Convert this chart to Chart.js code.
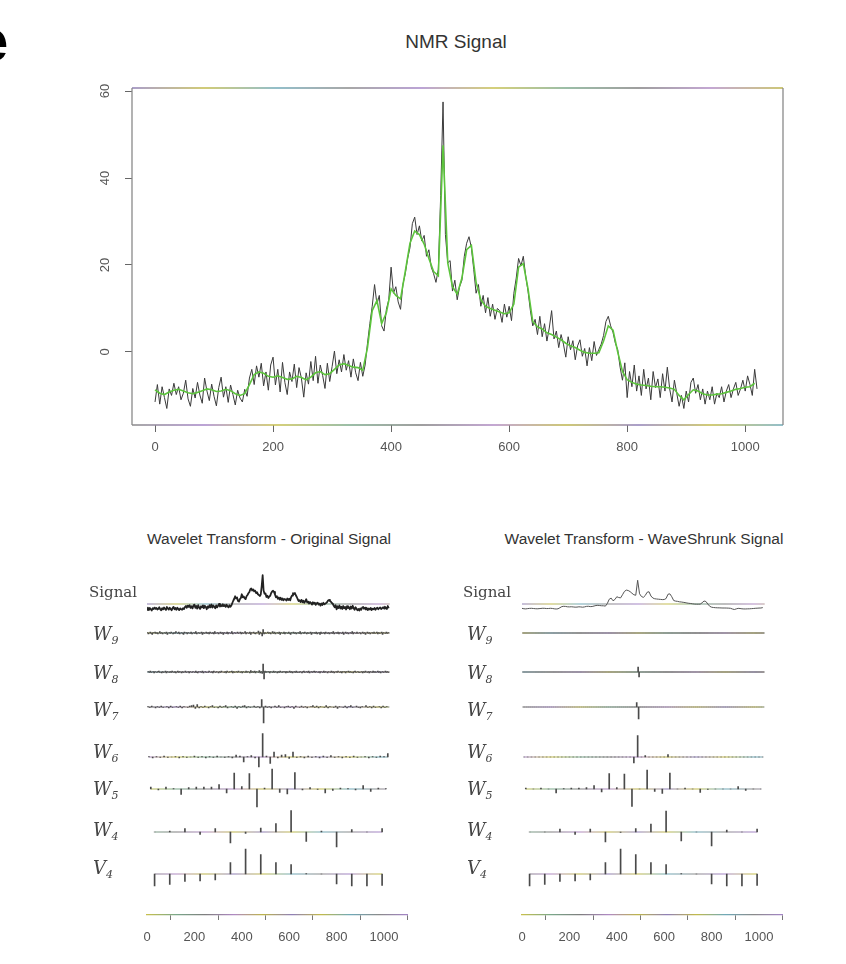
<!DOCTYPE html>
<html>
<head>
<meta charset="utf-8">
<script src="https://cdn.jsdelivr.net/npm/chart.js@4.4.0/dist/chart.umd.min.js"></script>
<style>
  body { margin: 0; background: #fff; }
  #page { position: relative; width: 846px; height: 964px; overflow: hidden; background: #fff; }
  .wrap { position: absolute; }
  .txt { position: absolute; white-space: nowrap; color: #333; font-family: "Liberation Sans", Arial, sans-serif; line-height: 1; }
  .row { font-family: "DejaVu Serif", serif; color: #444; }
  .row i { font-size: 18px; }
  .row sub { font-size: 11px; font-style: italic; vertical-align: -4px; }
</style>
</head>
<body>
<div id="page">
  <div class="txt" style="left:-25px;top:6px;font:bold 60px 'Liberation Sans',Arial,sans-serif;color:#000;">e</div>
  <div class="txt" style="left:356px;top:32px;width:200px;text-align:center;font-size:19px;">NMR Signal</div>
  <div class="txt" style="left:119px;top:531px;width:300px;text-align:center;font-size:15.5px;">Wavelet Transform - Original Signal</div>
  <div class="txt" style="left:494px;top:531px;width:300px;text-align:center;font-size:15.5px;">Wavelet Transform - WaveShrunk Signal</div>
  <div class="wrap" style="left:0;top:0;width:846px;height:470px;"><canvas id="nmr"></canvas></div>
  <div class="wrap" style="left:0;top:540px;width:420px;height:424px;"><canvas id="wtOrig"></canvas></div>
  <div class="wrap" style="left:375px;top:540px;width:420px;height:424px;"><canvas id="wtShrunk"></canvas></div>
</div>
<script>
// NMR spectrum, one value every 4 samples
const nmrSignal = [
  -11.5, -7.5, -12.0, -8.0, -10.5, -13.0, -8.5, -10.0, -7.2, -9.8,
  -8.0, -11.0, -9.5, -6.5, -10.8, -12.5, -8.4, -10.6, -7.0, -9.9,
  -11.8, -6.0, -9.0, -11.2, -7.4, -10.2, -12.4, -8.2, -5.8, -10.4,
  -8.0, -11.6, -7.6, -9.8, -12.2, -8.8, -10.6, -11.5, -8.6, -10.2,
  -6.0, -4.0, -7.5, -3.2, -5.8, -2.6, -7.8, -4.6, -8.8, -3.0,
  -1.2, -7.6, -4.0, -9.2, -2.4, -7.0, -9.8, -4.6, -6.8, -2.8,
  -8.2, -3.6, -6.0, -10.4, -4.8, -7.4, -2.2, -6.6, -1.0, -7.2,
  -3.0, -5.4, -8.4, -2.6, -6.8, -3.4, 0.2, -5.0, -1.8, -4.6,
  -0.6, -4.2, -2.0, -5.8, -1.6, -4.8, -6.6, -2.4, -5.6, -3.0,
  2.0, 6.5, 10.5, 15.5, 11.0, 13.0, 6.0, 4.8, 9.8, 12.0,
  19.5, 13.5, 15.0, 11.5, 9.8, 15.5, 18.0, 21.5, 24.0, 29.5,
  31.0, 27.0, 29.0, 25.5, 26.8, 22.0, 23.5, 19.5, 18.0, 16.0,
  19.0, 36.0, 57.5, 27.0, 20.5, 21.0, 14.0, 16.5, 12.0, 15.0,
  16.5, 22.0, 25.0, 26.5, 24.0, 19.0, 13.5, 15.5, 10.5, 13.0,
  9.0, 12.5, 8.2, 11.0, 7.5, 10.0, 9.5, 6.8, 11.0, 8.0,
  10.5, 7.2, 13.5, 17.0, 21.5, 19.8, 22.0, 17.5, 14.0, 9.5,
  6.0, 7.5, 4.0, 8.2, 3.5, 6.5, 2.5, 5.5, 9.5, 3.0,
  4.8, 1.0, 4.0, 1.8, -1.2, 3.5, 0.5, 2.6, -1.8, 1.4,
  2.8, -1.0, 0.8, -3.2, 1.0, -2.0, 2.4, -0.8, 0.6, 1.8,
  3.8, 7.0, 8.2, 6.0, 4.5, 2.0, 0.5, -3.5, -6.5, -2.5,
  -10.5, -4.5, -8.0, -3.0, -9.0, -5.5, -10.0, -4.0, -8.5, -6.0,
  -11.0, -4.5, -8.2, -6.2, -10.5, -5.0, -9.0, -3.5, -8.5, -11.5,
  -6.5, -9.5, -12.5, -10.0, -13.0, -9.0, -11.5, -7.0, -6.0, -9.5,
  -7.5, -11.0, -8.5, -12.0, -9.0, -11.0, -8.0, -12.0, -9.5, -10.5,
  -8.0, -11.5, -9.0, -7.5, -10.5, -8.5, -7.0, -10.0, -8.5, -6.5,
  -9.0, -5.5, -7.5, -10.0, -4.0, -8.5
];

// WaveShrink estimate, one value every 8 samples
const nmrShrunk = [
  -8.7, -9.5, -9.8, -9.2, -8.8, -8.6, -9.0, -9.4, -9.6, -9.3,
  -8.9, -8.5, -8.7, -9.1, -9.0, -8.6, -8.9, -9.6, -10.0, -9.6,
  -7.5, -5.2, -4.6, -4.9, -5.6, -5.8, -5.5, -5.9, -6.3, -6.2,
  -5.6, -5.9, -6.4, -5.8, -4.8, -4.5, -5.2, -5.0, -4.0, -3.0,
  -2.7, -3.1, -3.5, -3.6, -4.2,
  1.0, 9.5, 11.8, 6.5, 9.0, 14.5, 13.0, 12.2, 18.5, 25.0,
  27.8, 27.0, 24.8, 21.5, 18.5, 17.5, 47.5, 20.5, 15.0, 13.3,
  17.0, 23.5, 24.5, 16.0, 12.0, 10.5, 10.0, 9.6, 9.2, 8.8,
  9.0, 11.0, 19.5, 20.3, 14.5, 7.0, 5.8, 5.3, 4.4, 4.0,
  3.4, 2.8, 2.0, 1.4, 1.0, 0.4, -0.1, -0.3, -0.3, -0.2,
  2.5, 6.0, 5.0, 0.0, -4.5, -6.4, -7.0, -7.4, -7.6, -7.7,
  -7.9, -8.0, -8.0, -8.1, -8.3, -8.6, -10.0, -11.0, -9.8, -8.7,
  -9.0, -9.6, -9.9, -9.9, -9.7, -9.6, -9.3, -9.0, -8.6, -8.4,
  -8.1, -8.0, -7.2
];

const xTicks = [0, 200, 400, 600, 800, 1000];
const yTicks = [0, 20, 40, 60];

// wavelet crystals of the raw spectrum
const w9 = [
  1,-2,0,2,-1,-3,1,0,2,-1,1,-2,0,3,-1,1,
  -2,0,1,-1,2,-3,0,1,-1,2,0,-2,1,-1,3,0,
  -1,2,-2,0,1,-1,-3,2,0,1,-2,1,0,-1,2,-2,
  0,1,-1,3,-2,0,1,-1,0,2,-3,1,-1,0,2,-1,
  1,-2,2,0,-1,1,-2,3,-1,0,1,-2,0,2,-1,1,
  -3,1,0,-1,2,-2,1,0,-1,3,-2,0,1,-1,0,2,
  -1,0,2,-2,1,-1,0,3,-2,1,0,-1,2,-3,1,0,
  2,-1,-2,1,0,4,-3,2,-1,-6,7,-2,1,-1,0,2,
  -1,1,-2,0,3,-1,2,-2,0,1,-1,2,-3,1,0,-1,
  2,-2,1,0,-1,2,-1,-3,1,0,2,-1,1,-2,0,1,
  -1,3,-2,0,1,-1,2,0,-2,1,-1,0,2,-3,1,0,
  1,-1,2,-2,0,1,-3,2,-1,0,1,-2,2,0,-1,1,
  -2,0,1,-1,3,-2,0,1,-1,2,-2,1,0,-1,2,-3,
  0,2,-1,1,-2,0,1,-1,3,-2,1,0,-1,2,-1,0,
  1,-2,0,2,-1,1,-3,0,2,-1,1,-2,0,1,-1,2,
  -1,0,2,-2,1,-1,0,2,-3,1,0,-1,2,-1,1,0
];
const w8 = [
  0,1,-1,2,-1,0,1,-2,1,0,-1,1,2,-1,0,-2,
  1,-1,0,2,-2,1,0,-1,1,-1,2,0,-1,1,-2,0,
  2,-1,1,0,-2,1,-1,0,2,-1,0,1,-2,1,0,-1,
  1,0,-1,2,-1,-2,1,0,1,-1,2,-2,0,1,-1,0,
  -1,2,0,-1,1,-2,2,0,-1,1,0,-2,1,-1,2,0,
  0,-1,1,-2,2,0,-1,1,0,2,-2,1,-1,0,1,-1,
  2,0,-1,1,-2,1,0,-1,2,-1,1,0,-2,3,-1,1,
  -1,2,-2,1,0,-1,3,-2,1,-3,16,-14,2,-1,1,0,
  1,-2,1,0,-1,2,-1,1,0,-2,1,-1,2,0,-1,1,
  0,1,-2,1,-1,0,2,-1,1,-2,0,1,-1,2,-1,0,
  -1,1,0,-2,1,2,-1,0,1,-1,2,-2,0,1,-1,1,
  2,-1,1,0,-1,1,-2,1,0,-1,2,-1,1,0,-2,1,
  0,-1,2,-1,1,-2,0,1,-1,2,0,-1,1,-2,1,0,
  1,-2,1,0,2,-1,1,-1,0,-2,1,2,-1,0,1,-1,
  -1,0,1,-2,1,-1,2,0,-1,1,-2,1,0,-1,2,-1,
  1,-1,0,2,-1,1,-2,0,1,-1,0,2,-1,1,-1,0
];
const w7 = [
  1,-1,2,0,-2,1,-1,2,-1,0,1,-2,2,-1,0,1,
  -1,2,-2,1,0,-1,2,3,4,-3,5,-2,1,-1,2,0,
  -2,1,3,-1,0,-2,2,-1,1,3,-2,0,1,-1,2,-3,
  1,-1,2,3,-2,1,-1,0,2,-1,1,-2,15,-32,2,-1,
  1,-2,0,2,-1,3,-1,0,-2,1,2,-1,1,-3,2,0,
  -1,2,-1,1,-2,0,1,3,-1,2,-2,1,0,-1,3,-2,
  1,0,-1,2,-3,1,0,-1,2,-2,1,3,-1,0,2,-1,
  -2,1,0,3,-1,1,-2,2,-1,0,1,-2,2,-1,1,0
];
const w6 = [
  1,-2,1,-1,2,-1,0,1,-2,1,-1,0,2,-1,1,-2,
  1,-1,2,0,-1,1,-2,4,2,-10,1,3,-2,-20,47,2,
  -13,10,-2,4,5,-3,10,-1,1,-2,2,-1,1,-2,2,-1,
  3,-1,1,-2,1,-1,2,-1,0,1,-2,1,-1,2,1,7
];
const w5 = [4,-2,4,1,-11,3,4,4,4,9,-8,32,5,31,-36,2,40,-7,-10,33,-2,3,-1,-8,-3,2,1,-2,7,-5,2,1];
const w4 = [0,2,7,-5,7,-22,-3,8,17,43,-19,2,-30,5,0,7];
const v4 = [-24,-21,-15,-14,-12,23,50,39,23,19,1,0,-20,-24,-24,-23];

// crystals after shrinkage: the fine levels keep only a few coefficients
const w9Kept = { n: 256, kept: [] };
const w8Kept = { n: 256, kept: [[122, 10], [123, -10]] };
const w7Kept = { n: 128, kept: [[60, 9], [61, -24]] };
const w6Kept = { n: 64, kept: [[29, -12], [30, 43], [32, 3], [38, 5]] };
const w5Shrunk = [2,0,2,0,-8,1,2,2,3,7,-6,31,3,30,-35,0,38,-5,-9,32,0,2,0,-7,-1,0,0,0,5,-3,0,0];
const w4Shrunk = [0,0,6,-5,6,-20,-1,7,16,42,-18,0,-28,4,0,6];

// vertical zero of each row in the crystal panels (y units, 2 units per pixel)
const rowZero = { Signal: 622, W9: 564, W8: 486, W7: 416, W6: 316, W5: 252, W4: 166, V4: 82 };
const rowLabels = [['Signal', '', 585], ['W', '9', 625], ['W', '8', 664], ['W', '7', 701], ['W', '6', 743], ['W', '5', 780], ['W', '4', 821], ['V', '4', 859]];

Chart.defaults.font.family = '"Liberation Sans", Arial, sans-serif';
Chart.defaults.font.size = 13;
Chart.defaults.color = '#555';

// faint colour fringing along the horizontal rules
const fringe = ['#8f7fb8', '#c2ba4a', '#6fa9b8', '#8a8a8a', '#a585c8', '#c7c04e', '#7aa88a', '#7e7e7e', '#b08ac4', '#bdb54a'];
function fringeGradient(ctx, x0, x1, shift) {
  const g = ctx.createLinearGradient(x0, 0, x1, 0);
  const n = fringe.length;
  for (let i = 0; i < n; i++) g.addColorStop(i / (n - 1), fringe[(i + shift) % n]);
  return g;
}

function expand(sparse) {
  const a = new Array(sparse.n).fill(0);
  sparse.kept.forEach(([k, v]) => { a[k] = v; });
  return a;
}

const noCommas = v => String(v);

// box round the plot plus the upright y labels
const frame = {
  id: 'frame',
  afterDraw(chart) {
    const { ctx, chartArea: a } = chart;
    ctx.save();
    ctx.lineWidth = 1.3;
    ctx.strokeStyle = fringeGradient(ctx, a.left, a.right, 0);
    ctx.beginPath(); ctx.moveTo(a.left, a.top); ctx.lineTo(a.right, a.top); ctx.stroke();
    ctx.strokeStyle = fringeGradient(ctx, a.left, a.right, 3);
    ctx.beginPath(); ctx.moveTo(a.left, a.bottom); ctx.lineTo(a.right, a.bottom); ctx.stroke();
    ctx.strokeStyle = '#8a8a8a';
    ctx.beginPath();
    ctx.moveTo(a.left, a.top); ctx.lineTo(a.left, a.bottom);
    ctx.moveTo(a.right, a.top); ctx.lineTo(a.right, a.bottom);
    ctx.stroke();

    const ys = chart.scales.y;
    ctx.fillStyle = '#555';
    ctx.font = '13px "Liberation Sans", Arial, sans-serif';
    ctx.textAlign = 'center';
    ctx.textBaseline = 'middle';
    yTicks.forEach(v => {
      ctx.save();
      ctx.translate(105, ys.getPixelForValue(v));
      ctx.rotate(-Math.PI / 2);
      ctx.fillText(String(v), 0, 0);
      ctx.restore();
    });
    ctx.restore();
  }
};

new Chart(document.getElementById('nmr'), {
  type: 'line',
  data: {
    datasets: [
      {
        label: 'WaveShrink',
        data: nmrShrunk.map((v, k) => ({ x: k * 1024 / nmrShrunk.length, y: v })),
        borderColor: '#5cc43c',
        borderWidth: 1.6,
        pointRadius: 0,
        tension: 0
      },
      {
        label: 'NMR',
        data: nmrSignal.map((v, k) => ({ x: k * 1024 / nmrSignal.length, y: v })),
        borderColor: '#3a3a3a',
        borderWidth: 1,
        borderJoinStyle: 'round',
        pointRadius: 0,
        tension: 0
      }
    ]
  },
  options: {
    responsive: true,
    maintainAspectRatio: false,
    animation: false,
    events: [],
    layout: { padding: { left: 0, top: 88, right: 63, bottom: 0 } },
    plugins: { legend: { display: false }, tooltip: { enabled: false } },
    scales: {
      x: {
        type: 'linear', min: -39, max: 1064,
        afterBuildTicks: s => { s.ticks = xTicks.map(v => ({ value: v })); },
        afterFit: s => { s.height = 45; },
        grid: { drawOnChartArea: false, tickLength: 7, color: '#666' },
        border: { display: false },
        ticks: { padding: 8, minRotation: 0, maxRotation: 0, autoSkip: false, callback: noCommas }
      },
      y: {
        type: 'linear', min: -16.8, max: 60.7,
        afterBuildTicks: s => { s.ticks = yTicks.map(v => ({ value: v })); },
        afterFit: s => { s.width = 132; },
        grid: { drawOnChartArea: false, tickLength: 7, color: '#666' },
        border: { display: false },
        ticks: { display: false }
      }
    }
  },
  plugins: [frame]
});

function crystalPanel(id, signal, signalStyle, rows) {
  const canvas = document.getElementById(id);
  const axisGrad = fringeGradient(canvas.getContext('2d'), 147, 408, 5);
  const datasets = [];
  rows.forEach((r, i) => {
    const z = rowZero[r.name];
    const n = r.values.length;
    datasets.push({
      type: 'bar',
      data: r.values.map((v, k) => ({ x: (k + 0.5) * 1024 / n, y: [z, z + v] })),
      backgroundColor: '#4a4a4a',
      barThickness: 1,
      grouped: false,
      order: 1
    });
    datasets.push({
      type: 'line',
      data: [{ x: 0.5 * 1024 / n, y: z }, { x: (n - 0.5) * 1024 / n, y: z }],
      borderColor: c => c.chart.chartArea ? fringeGradient(c.chart.ctx, c.chart.chartArea.left, c.chart.chartArea.right, i + 1) : '#888',
      borderWidth: 1.2,
      pointRadius: 0,
      order: 2
    });
  });
  const zs = rowZero.Signal;
  datasets.push(Object.assign({
    type: 'line',
    data: signal.map((v, k) => ({ x: k * 1024 / signal.length, y: zs + v })),
    pointRadius: 0,
    tension: 0,
    borderJoinStyle: 'round',
    order: 1
  }, signalStyle));
  datasets.push({
    type: 'line',
    data: [{ x: 0, y: zs }, { x: 1024, y: zs }],
    borderColor: c => c.chart.chartArea ? fringeGradient(c.chart.ctx, c.chart.chartArea.left, c.chart.chartArea.right, 0) : '#888',
    borderWidth: 1.2,
    pointRadius: 0,
    order: 2
  });

  new Chart(canvas, {
    type: 'line',
    data: { datasets },
    options: {
      responsive: true,
      maintainAspectRatio: false,
      animation: false,
      events: [],
      layout: { padding: { left: 147, top: 20, right: 12.3, bottom: 0 } },
      plugins: { legend: { display: false }, tooltip: { enabled: false } },
      scales: {
        x: {
          type: 'linear', min: 0, max: 1100, offset: false,
          afterBuildTicks: s => { s.ticks = xTicks.map(v => ({ value: v })); },
          afterFit: s => { s.height = 49; },
          grid: { drawOnChartArea: false, tickLength: 5, color: '#777' },
          border: { display: true, color: axisGrad, width: 1.3 },
          ticks: { padding: 10, minRotation: 0, maxRotation: 0, autoSkip: false, callback: noCommas }
        },
        y: { type: 'linear', display: false, min: 0, max: 710 }
      }
    }
  });
}

crystalPanel('wtOrig', nmrSignal, { borderColor: '#222', borderWidth: 1.8 }, [
  { name: 'W9', values: w9 },
  { name: 'W8', values: w8 },
  { name: 'W7', values: w7 },
  { name: 'W6', values: w6 },
  { name: 'W5', values: w5 },
  { name: 'W4', values: w4 },
  { name: 'V4', values: v4 }
]);

crystalPanel('wtShrunk', nmrShrunk, { borderColor: '#555', borderWidth: 1 }, [
  { name: 'W9', values: expand(w9Kept) },
  { name: 'W8', values: expand(w8Kept) },
  { name: 'W7', values: expand(w7Kept) },
  { name: 'W6', values: expand(w6Kept) },
  { name: 'W5', values: w5Shrunk },
  { name: 'W4', values: w4Shrunk },
  { name: 'V4', values: v4 }
]);

// row names beside each crystal
const page = document.getElementById('page');
[0, 374].forEach(dx => {
  rowLabels.forEach(([base, sub, top]) => {
    const d = document.createElement('div');
    d.className = 'txt row';
    d.style.top = top + 'px';
    if (sub) {
      d.style.left = (93 + dx) + 'px';
      d.innerHTML = '<i>' + base + '</i><sub>' + sub + '</sub>';
    } else {
      d.style.left = (89 + dx) + 'px';
      d.style.fontSize = '15px';
      d.textContent = base;
    }
    page.appendChild(d);
  });
});
</script>
</body>
</html>
